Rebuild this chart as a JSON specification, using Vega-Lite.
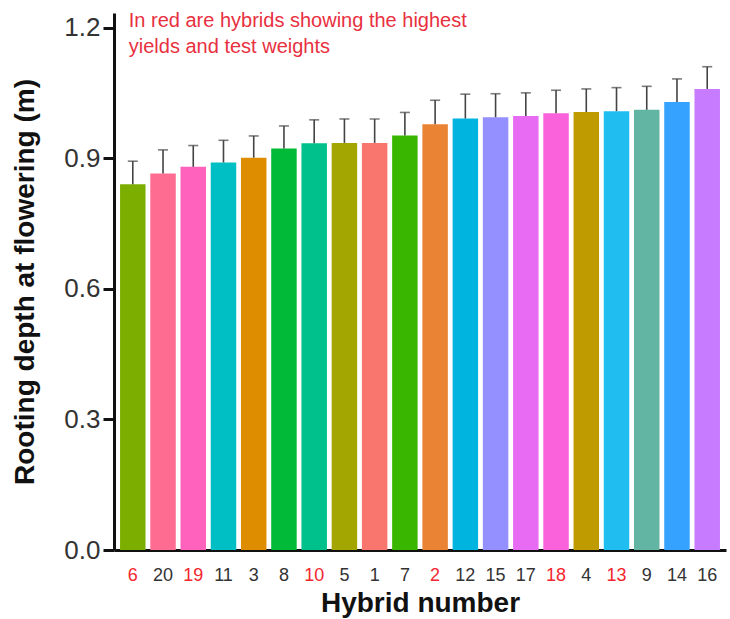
{
  "$schema": "https://vega.github.io/schema/vega-lite/v6.json",
  "width": 612,
  "height": 537,
  "autosize": {"type": "none"},
  "padding": {"left": 114, "top": 13, "right": 4, "bottom": 69},
  "background": "white",
  "config": {
    "view": {"stroke": null},
    "font": "Liberation Sans",
    "axis": {"grid": false, "domainColor": "#111111", "domainWidth": 3, "tickColor": "#111111", "tickWidth": 3, "labelFont": "Liberation Sans", "titleFont": "Liberation Sans", "titleColor": "#111111", "titleFontWeight": "bold"}
  },
  "data": {
    "values": [
      {"hybrid": "6", "depth": 0.840, "upper": 0.893},
      {"hybrid": "20", "depth": 0.865, "upper": 0.919},
      {"hybrid": "19", "depth": 0.880, "upper": 0.929},
      {"hybrid": "11", "depth": 0.890, "upper": 0.941},
      {"hybrid": "3", "depth": 0.901, "upper": 0.951},
      {"hybrid": "8", "depth": 0.922, "upper": 0.974},
      {"hybrid": "10", "depth": 0.934, "upper": 0.988},
      {"hybrid": "5", "depth": 0.935, "upper": 0.990},
      {"hybrid": "1", "depth": 0.935, "upper": 0.990},
      {"hybrid": "7", "depth": 0.952, "upper": 1.005},
      {"hybrid": "2", "depth": 0.978, "upper": 1.033},
      {"hybrid": "12", "depth": 0.991, "upper": 1.047},
      {"hybrid": "15", "depth": 0.994, "upper": 1.048},
      {"hybrid": "17", "depth": 0.997, "upper": 1.050},
      {"hybrid": "18", "depth": 1.003, "upper": 1.056},
      {"hybrid": "4", "depth": 1.006, "upper": 1.059},
      {"hybrid": "13", "depth": 1.008, "upper": 1.062},
      {"hybrid": "9", "depth": 1.011, "upper": 1.065},
      {"hybrid": "14", "depth": 1.029, "upper": 1.082},
      {"hybrid": "16", "depth": 1.059, "upper": 1.110}
    ]
  },
  "encoding": {
    "x": {
      "field": "hybrid",
      "type": "nominal",
      "sort": null,
      "scale": {"paddingInner": 0.157, "paddingOuter": 0.2},
      "axis": {
        "title": "Hybrid number",
        "titleFontSize": 28,
        "titlePadding": 5,
        "labelAngle": 0,
        "labelFontSize": 18,
        "labelPadding": 16,
        "ticks": false,
        "tickSize": 0,
        "labelColor": {"condition": {"test": "indexof(['6','19','10','2','18','13'], datum.value) >= 0", "value": "#F2262E"}, "value": "#333333"}
      }
    }
  },
  "layer": [
    {
      "mark": {"type": "bar"},
      "encoding": {
        "y": {
          "field": "depth",
          "type": "quantitative",
          "scale": {"domain": [0, 1.2334], "nice": false, "zero": true},
          "axis": {
            "title": "Rooting depth at flowering (m)",
            "titleFontSize": 28,
            "titlePadding": 24,
            "values": [0, 0.3, 0.6, 0.9, 1.2],
            "format": ".1f",
            "labelFontSize": 26,
            "labelColor": "#333333",
            "labelPadding": 3,
            "tickSize": 11
          }
        },
        "color": {
          "field": "hybrid",
          "type": "nominal",
          "legend": null,
          "scale": {
            "domain": ["6", "20", "19", "11", "3", "8", "10", "5", "1", "7", "2", "12", "15", "17", "18", "4", "13", "9", "14", "16"],
            "range": ["#7CAE00", "#FF6C91", "#FF62BC", "#00BFC4", "#DE8C00", "#00BA38", "#00C08B", "#A3A500", "#F8766D", "#39B600", "#EB8335", "#00B4E0", "#9590FF", "#E76BF3", "#FA62DB", "#C09B00", "#20BEF0", "#63B5A3", "#35A2FF", "#C77CFF"]
          }
        }
      }
    },
    {
      "mark": {"type": "rule", "color": "#444444", "strokeWidth": 1.6},
      "encoding": {
        "y": {"field": "depth", "type": "quantitative"},
        "y2": {"field": "upper"}
      }
    },
    {
      "mark": {"type": "tick", "color": "#444444", "thickness": 1.6, "size": 10, "orient": "horizontal"},
      "encoding": {
        "y": {"field": "upper", "type": "quantitative"}
      }
    },
    {
      "data": {
        "values": [
          {"line": "In red are hybrids showing the highest", "level": 1.216},
          {"line": "yields and test weights", "level": 1.156}
        ]
      },
      "mark": {"type": "text", "align": "left", "baseline": "middle", "dx": -4, "fontSize": 20, "color": "#E8303F", "font": "Liberation Sans"},
      "encoding": {
        "x": {"datum": "6"},
        "y": {"field": "level", "type": "quantitative"},
        "text": {"field": "line"}
      }
    }
  ]
}
